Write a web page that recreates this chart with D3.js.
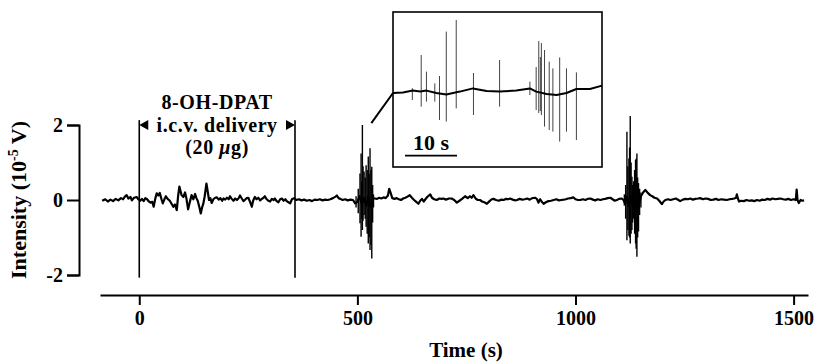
<!DOCTYPE html>
<html>
<head>
<meta charset="utf-8">
<script src="https://cdn.jsdelivr.net/npm/d3@7"></script>
<style>
  body { margin: 0; background: #fff; }
  svg { font-family: "Liberation Serif", "Times New Roman", serif; font-weight: bold; }
  .axis path, .axis line { stroke: #000; stroke-width: 2; }
  .axis text { font-size: 20px; fill: #000; font-family: "Liberation Serif", serif; font-weight: bold; }
</style>
</head>
<body>
<svg id="chart" width="814" height="362"></svg>
<script>
// tick values
const xTicks = [0, 500, 1000, 1500];
const yTicks = [-2, 0, 2];

// drug delivery window (s)
const deliveryWindow = [0, 357];
const deliveryText = ["8-OH-DPAT", "i.c.v. delivery"];

// main trace, [time s, intensity 1e-5 V]
const tracePoints = [
  [-85,-0.02],[-78,0.02],[-72,-0.04],[-66,0.01],[-60,-0.03],[-54,0.03],[-48,-0.01],[-42,0.05],[-37,0.02],[-33,0.09],
  [-29,0.13],[-25,0.04],[-20,0.08],[-17,-0.01],[-12,0.06],[-6,0.08],[-2,0.02],[2,-0.02],
  [6,0.03],[10,-0.03],[14,0.05],[18,0.02],[22,-0.04],[26,-0.07],[30,-0.05],[33,-0.18],[37,0.05],[40,0.18],
  [44,0.12],[47,0.19],[51,0.02],[54,-0.09],[58,0.03],[61,0.1],[65,0.03],[70,-0.02],[74,-0.1],[78,-0.18],
  [82,-0.12],[86,-0.27],[89,0.1],[92,0.36],[95,0.22],[97,0.13],[101,0.08],[105,0.2],[108,0.05],[112,-0.25],
  [116,-0.05],[120,0.13],[124,0.02],[128,0.16],[131,0.05],[134,-0.02],[138,-0.2],[141,-0.36],[144,-0.2],[147,-0.09],
  [150,0.1],[154,0.44],[157,0.22],[160,0.0],[163,0.05],[166,-0.08],[170,0.02],[174,0.06],[178,0.07],[182,0.01],
  [186,0.05],[190,-0.02],[193,0.04],[197,0.01],[201,0.06],[205,0.02],[208,0.1],[212,0.03],[216,-0.02],[220,0.04],
  [224,0.0],[228,0.05],[231,0.12],[235,0.04],[239,-0.03],[242,0.0],[246,0.05],[250,0.06],[254,-0.05],[258,-0.18],
  [261,-0.02],[265,0.08],[269,0.02],[273,0.06],[277,-0.01],[281,0.03],[285,0.06],[288,0.1],[292,0.02],[296,-0.02],
  [300,-0.04],[304,0.03],[308,0.0],[311,0.04],[315,-0.03],[319,-0.06],[323,0.02],[327,0.04],[331,-0.02],[335,0.02],
  [338,-0.03],[342,-0.06],[346,-0.09],[350,0.02],[355,0.05],
  [360,0.0],[366,0.02],[372,-0.01],[378,0.01],[384,-0.02],[390,0.0],[396,-0.03],[402,0.01],[408,0.0],[414,0.02],
  [420,-0.01],[426,0.01],[432,0.0],[438,0.02],[444,0.05],[450,0.09],[453,0.12],[457,0.05],[461,0.03],[466,0.0],
  [472,0.02],[478,-0.01],[484,0.01],[490,0.0],[495,-0.09],
  [500,-0.05],[505,0.1],[510,-0.1],[515,0.05],[520,-0.15],[525,0.1],[530,-0.2],[535,0.05],[540,0.04],
  [545,0.03],[550,0.06],[555,0.04],[560,0.07],[565,0.05],[570,0.12],[573,0.3],[576,0.2],[580,0.05],[585,0.03],
  [590,0.05],[595,0.02],[600,0.0],[605,0.04],[610,0.06],[615,0.09],[620,0.13],[625,0.06],[630,0.0],[635,-0.05],
  [640,-0.1],[644,-0.02],[648,0.03],[652,-0.04],[656,0.02],[660,0.08],[664,0.12],[667,0.15],[671,0.06],[676,0.02],
  [682,0.0],[688,0.04],[693,0.03],[697,0.04],[703,0.01],[710,0.04],[716,0.04],[722,0.0],[728,-0.07],[734,-0.02],
  [740,0.03],[747,0.1],[753,0.05],[758,0.1],[762,0.06],[766,0.13],[771,0.04],[776,0.0],[781,0.0],[786,-0.04],
  [791,-0.06],[797,-0.1],[803,-0.03],[808,0.02],[812,0.03],[818,0.0],[824,-0.02],[830,0.01],[835,0.0],[841,0.03],
  [846,0.02],[850,0.04],[856,0.01],[862,-0.01],[866,0.0],[872,0.03],[878,0.01],[884,0.02],[889,0.04],[895,0.01],
  [901,0.05],[908,0.06],[912,0.02],[915,-0.07],[919,0.02],[923,-0.05],[927,-0.1],[932,-0.06],[938,-0.03],[944,-0.02],
  [950,0.0],[956,0.02],[962,-0.01],[967,0.0],[973,0.01],[978,0.02],[983,0.04],[989,0.05],[995,0.07],[1000,0.02],
  [1006,0.0],[1011,0.0],[1017,0.02],[1023,0.0],[1028,0.03],[1034,0.04],[1040,0.01],[1045,-0.01],[1051,0.02],[1057,0.0],
  [1063,0.02],[1068,0.03],[1074,0.05],[1080,0.06],[1085,0.02],[1090,-0.02],[1095,0.0],[1100,0.03],[1106,0.04],[1110,0.0],
  [1114,-0.1],[1118,0.1],[1122,-0.15],[1126,0.1],[1130,-0.1],[1134,0.1],[1138,-0.2],[1142,0.05],[1146,-0.1],[1150,0.1],
  [1155,0.2],[1160,0.27],[1165,0.2],[1171,0.13],[1176,0.1],[1181,0.06],[1187,0.04],[1192,-0.02],[1198,-0.11],[1202,-0.04],
  [1206,0.0],[1212,0.02],[1218,0.0],[1224,0.02],[1230,0.04],[1236,0.0],[1240,-0.03],[1246,0.01],[1252,0.03],[1258,0.02],
  [1263,0.04],[1269,0.01],[1275,0.03],[1281,0.04],[1286,0.05],[1292,0.02],[1298,0.04],[1304,0.03],[1310,0.0],[1316,0.01],
  [1322,0.03],[1328,0.0],[1334,0.02],[1340,0.01],[1347,0.0],[1353,0.02],[1359,0.03],[1364,0.04],[1368,0.06],[1370,0.15],
  [1372,0.05],[1375,-0.04],[1380,-0.02],[1386,-0.03],[1392,0.0],[1398,-0.02],[1404,-0.01],[1410,-0.03],[1416,0.0],[1422,-0.02],
  [1428,0.01],[1434,0.0],[1440,0.03],[1446,0.01],[1452,0.04],[1458,0.02],[1464,0.03],[1470,0.04],[1476,0.02],[1482,0.01],
  [1488,0.03],[1494,0.0],[1500,0.02],[1505,0.0],[1507,0.28],[1509,0.0],[1512,-0.08],[1516,0.0],[1520,-0.02],[1524,-0.01]
];

// burst spikes, [time s, max, min]
const burst1 = [
  [497,0.1,-0.2],[502,0.3,-0.35],[506,0.71,-0.62],[508.5,1.24,-0.98],[510,0.5,-0.5],[511.5,2.0,-0.8],[513,0.9,-0.55],
  [515.4,0.76,-0.4],[518,0.6,-0.5],[520,0.93,-0.71],[522.5,0.8,-0.9],[525,1.16,-1.16],[527,0.7,-1.0],[529,1.38,-1.33],
  [531,0.8,-1.2],[533,0.89,-1.56],[535,0.4,-0.6],[537,0.15,-0.2]
];
const burst2 = [
  [1112,0.15,-0.15],[1115,0.4,-0.5],[1117.9,1.82,-1.07],[1120,0.9,-0.8],[1122.5,1.11,-0.95],[1124,1.4,-1.0],
  [1125.5,2.24,-1.16],[1127.5,1.0,-0.9],[1129.4,0.62,-0.8],[1131,0.4,-0.6],[1133,0.5,-0.5],[1135.5,0.8,-0.9],
  [1137.7,1.07,-1.16],[1139,1.1,-1.3],[1140.8,1.24,-1.51],[1142.5,0.6,-1.0],[1144.5,0.45,-0.84],[1147,0.3,-0.4],[1150,0.2,-0.2]
];

// inset (40 s zoom of the first burst), [time s, value]
const insetBaseline = [
  [0,0],[1.9,0.02],[3.8,0.12],[5.2,0.08],[6.4,0.12],[8.3,0],[10.2,-0.08],[12.8,0.07],[15.3,0.23],[17.9,0.1],
  [20.4,0.07],[23.6,0.12],[26.2,0.23],[27.4,0.07],[29.4,-0.05],[31.3,-0.1],[33.2,0],[35.1,0.2],[37.7,0.2],[40,0.37]
];
const insetSpikes = [
  [3.7,0.24,-0.35],[5.4,1.9,-0.68],[6.4,1.07,-0.43],[8.0,0.48,-0.43],[8.9,0.85,-1.35],[10.2,3.07,-1.43],
  [12.1,3.65,-0.77],[15.4,1.0,-1.1],[20.4,1.65,-0.68],[26.2,0.57,-0.1],[27.4,1.3,-0.85],[27.9,2.6,-1.0],
  [28.2,1.8,-0.9],[28.4,2.5,-1.1],[29.0,2.15,-1.68],[29.9,1.57,-1.85],[30.6,1.23,-1.93],[31.9,1.78,-2.43],
  [33.2,1.23,-1.93],[35.1,1.03,-2.35]
];
const insetScaleBar = [2.3, 12.25];
const insetAnchor = [532, 2.05];

const svg = d3.select("#chart");

const x = d3.scaleLinear().domain([-90, 1533]).range([100, 808]);
const y = d3.scaleLinear().domain([-2, 2]).range([275, 125]);

// axes
svg.append("g")
  .attr("class", "axis")
  .attr("transform", "translate(0,295)")
  .call(d3.axisBottom(x).tickValues(xTicks).tickSize(10).tickSizeOuter(0).tickPadding(6).tickFormat(d => String(d)));

svg.append("g")
  .attr("class", "axis")
  .attr("transform", "translate(79,0)")
  .call(d3.axisLeft(y).tickValues(yTicks).tickSize(12).tickSizeOuter(12).tickPadding(4).tickFormat(d => String(d)));

svg.append("text")
  .attr("x", 466).attr("y", 357)
  .attr("text-anchor", "middle")
  .attr("font-size", 21)
  .text("Time (s)");

const yLabel = svg.append("text")
  .attr("transform", "translate(26,200) rotate(-90)")
  .attr("text-anchor", "middle")
  .attr("font-size", 22);
yLabel.append("tspan").text("Intensity (10");
yLabel.append("tspan").attr("font-size", 14).attr("dy", -8).text("-5");
yLabel.append("tspan").attr("dy", 8).text(" V)");

// delivery markers
svg.selectAll(".dlv")
  .data(deliveryWindow)
  .enter().append("line")
  .attr("class", "dlv")
  .attr("x1", d => x(d)).attr("x2", d => x(d))
  .attr("y1", y(2.13)).attr("y2", y(-2.07))
  .attr("stroke", "#000").attr("stroke-width", 1.6);

const arrowY = y(2);
svg.append("path")
  .attr("d", `M${x(deliveryWindow[0])},${arrowY}l9,-5v10z M${x(deliveryWindow[1])},${arrowY}l-9,-5v10z`)
  .attr("fill", "#000");

// label lines above the delivery window
const midX = (x(deliveryWindow[0]) + x(deliveryWindow[1])) / 2;
const noteStyle = t => t.attr("x", midX).attr("text-anchor", "middle").attr("font-size", 20).attr("letter-spacing", 0.6);
svg.append("text").call(noteStyle).attr("y", 109).text(deliveryText[0]);
svg.append("text").call(noteStyle).attr("y", 131.5).text(deliveryText[1]);
const dose = svg.append("text").call(noteStyle).attr("y", 154);
dose.append("tspan").text("(20 ");
dose.append("tspan").attr("font-style", "italic").text("μ");
dose.append("tspan").text("g)");

// trace
const line = d3.line().x(d => x(d[0])).y(d => y(d[1]));
svg.append("path")
  .datum(tracePoints)
  .attr("d", line)
  .attr("fill", "none").attr("stroke", "#000").attr("stroke-width", 2.2).attr("stroke-linejoin", "round");

svg.selectAll(".spike")
  .data(burst1.concat(burst2))
  .enter().append("line")
  .attr("class", "spike")
  .attr("x1", d => x(d[0])).attr("x2", d => x(d[0]))
  .attr("y1", d => y(d[1])).attr("y2", d => y(d[2]))
  .attr("stroke", "#000").attr("stroke-width", 1.4);

// inset
const ix = d3.scaleLinear().domain([0, 40]).range([393, 602]);
const iy = d3.scaleLinear().domain([-3.7, 4.05]).range([167, 12]);

svg.append("rect")
  .attr("x", ix(0)).attr("y", iy(4.05))
  .attr("width", ix(40) - ix(0)).attr("height", iy(-3.7) - iy(4.05))
  .attr("fill", "none").attr("stroke", "#000").attr("stroke-width", 1.6);

svg.selectAll(".ispike")
  .data(insetSpikes)
  .enter().append("line")
  .attr("class", "ispike")
  .attr("x1", d => ix(d[0])).attr("x2", d => ix(d[0]))
  .attr("y1", d => iy(d[1])).attr("y2", d => iy(d[2]))
  .attr("stroke", "#444").attr("stroke-width", 1);

svg.append("path")
  .datum(insetBaseline)
  .attr("d", d3.line().x(d => ix(d[0])).y(d => iy(d[1])))
  .attr("fill", "none").attr("stroke", "#000").attr("stroke-width", 2).attr("stroke-linejoin", "round");

svg.append("line")
  .attr("x1", x(insetAnchor[0])).attr("y1", y(insetAnchor[1]))
  .attr("x2", ix(0)).attr("y2", iy(0))
  .attr("stroke", "#000").attr("stroke-width", 2);

svg.append("line")
  .attr("x1", ix(insetScaleBar[0])).attr("x2", ix(insetScaleBar[1]))
  .attr("y1", iy(-3.13)).attr("y2", iy(-3.13))
  .attr("stroke", "#000").attr("stroke-width", 1.6);
svg.append("text")
  .attr("x", (ix(insetScaleBar[0]) + ix(insetScaleBar[1])) / 2).attr("y", 150)
  .attr("text-anchor", "middle").attr("font-size", 22)
  .text("10 s");
</script>
</body>
</html>
